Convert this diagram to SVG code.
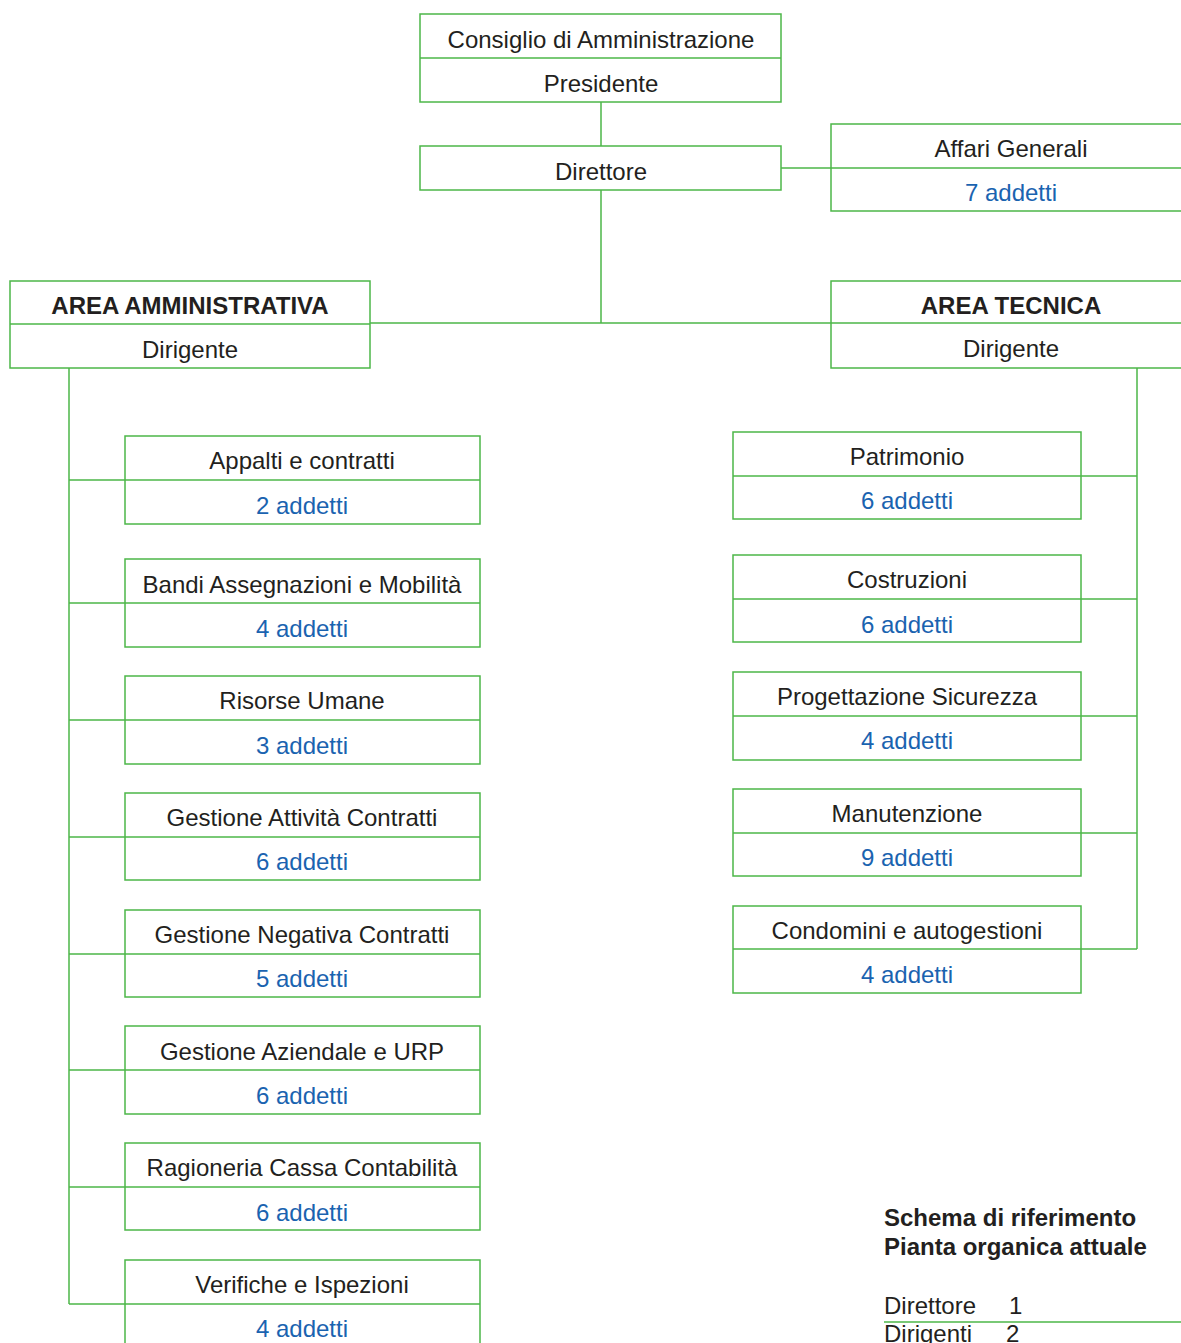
<svg xmlns="http://www.w3.org/2000/svg" width="1181" height="1343" viewBox="0 0 1181 1343">
<style>
.b{fill:#fff;stroke:#4cb748;stroke-width:1.5}
.l{fill:none;stroke:#4cb748;stroke-width:1.5}
text{font-family:"Liberation Sans",Arial,sans-serif;font-size:24px;text-anchor:middle;fill:#231f20}
.a{fill:#1a63b0}
.h{font-weight:bold}
.g{text-anchor:start}
</style>
<rect width="1181" height="1343" fill="#fff"/>
<g id="connectors">
<path class="l" d="M601 102V146M601 190V323M370 323H831M781 168H831"/>
<path class="l" d="M69 368V1304M69 480H125M69 603H125M69 720H125M69 837H125M69 954H125M69 1070H125M69 1187H125M69 1304H125"/>
<path class="l" d="M1137 368V949M1081 476H1137M1081 599H1137M1081 716H1137M1081 833H1137M1081 949H1137"/>
</g>
<g id="cda"><rect class="b" x="420" y="14" width="361" height="88"/><path class="l" d="M420 58H781"/><text x="601" y="48">Consiglio di Amministrazione</text><text x="601" y="92">Presidente</text></g>
<g id="direttore"><rect class="b" x="420" y="146" width="361" height="44"/><text x="601" y="180">Direttore</text></g>
<g id="affari"><path class="l" d="M1181 124H831V211H1181M831 168H1181"/><text x="1011" y="157">Affari Generali</text><text class="a" x="1011" y="201">7 addetti</text></g>
<g id="area-amm"><rect class="b" x="10" y="281" width="360" height="87"/><path class="l" d="M10 324H370"/><text class="h" x="190" y="314">AREA AMMINISTRATIVA</text><text x="190" y="358">Dirigente</text></g>
<g id="area-tec"><path class="l" d="M1181 281H831V368H1181M831 323H1181"/><text class="h" x="1011" y="314">AREA TECNICA</text><text x="1011" y="357">Dirigente</text></g>
<g id="appalti"><rect class="b" x="125" y="436" width="355" height="88"/><path class="l" d="M125 480H480"/><text x="302" y="469">Appalti e contratti</text><text class="a" x="302" y="514">2 addetti</text></g>
<g id="bandi"><rect class="b" x="125" y="559" width="355" height="88"/><path class="l" d="M125 603H480"/><text x="302" y="593">Bandi Assegnazioni e Mobilità</text><text class="a" x="302" y="637">4 addetti</text></g>
<g id="risorse"><rect class="b" x="125" y="676" width="355" height="88"/><path class="l" d="M125 720H480"/><text x="302" y="709">Risorse Umane</text><text class="a" x="302" y="754">3 addetti</text></g>
<g id="gest-att"><rect class="b" x="125" y="793" width="355" height="87"/><path class="l" d="M125 837H480"/><text x="302" y="826">Gestione Attività Contratti</text><text class="a" x="302" y="870">6 addetti</text></g>
<g id="gest-neg"><rect class="b" x="125" y="910" width="355" height="87"/><path class="l" d="M125 954H480"/><text x="302" y="943">Gestione Negativa Contratti</text><text class="a" x="302" y="987">5 addetti</text></g>
<g id="gest-az"><rect class="b" x="125" y="1026" width="355" height="88"/><path class="l" d="M125 1070H480"/><text x="302" y="1060">Gestione Aziendale e URP</text><text class="a" x="302" y="1104">6 addetti</text></g>
<g id="ragioneria"><rect class="b" x="125" y="1143" width="355" height="87"/><path class="l" d="M125 1187H480"/><text x="302" y="1176">Ragioneria Cassa Contabilità</text><text class="a" x="302" y="1221">6 addetti</text></g>
<g id="verifiche"><path class="l" d="M125 1343V1260H480V1343M125 1304H480"/><text x="302" y="1293">Verifiche e Ispezioni</text><text class="a" x="302" y="1337">4 addetti</text></g>
<g id="patrimonio"><rect class="b" x="733" y="432" width="348" height="87"/><path class="l" d="M733 476H1081"/><text x="907" y="465">Patrimonio</text><text class="a" x="907" y="509">6 addetti</text></g>
<g id="costruzioni"><rect class="b" x="733" y="555" width="348" height="87"/><path class="l" d="M733 599H1081"/><text x="907" y="588">Costruzioni</text><text class="a" x="907" y="633">6 addetti</text></g>
<g id="progettazione"><rect class="b" x="733" y="672" width="348" height="88"/><path class="l" d="M733 716H1081"/><text x="907" y="705">Progettazione Sicurezza</text><text class="a" x="907" y="749">4 addetti</text></g>
<g id="manutenzione"><rect class="b" x="733" y="789" width="348" height="87"/><path class="l" d="M733 833H1081"/><text x="907" y="822">Manutenzione</text><text class="a" x="907" y="866">9 addetti</text></g>
<g id="condomini"><rect class="b" x="733" y="906" width="348" height="87"/><path class="l" d="M733 949H1081"/><text x="907" y="939">Condomini e autogestioni</text><text class="a" x="907" y="983">4 addetti</text></g>
<g id="legend">
<text class="h g" x="884" y="1226">Schema di riferimento</text>
<text class="h g" x="884" y="1255">Pianta organica attuale</text>
<text class="g" x="884" y="1314">Direttore</text><text class="g" x="1009" y="1314">1</text>
<path class="l" d="M884 1322H1181"/>
<text class="g" x="884" y="1342">Dirigenti</text><text class="g" x="1006" y="1342">2</text>
</g>
</svg>
